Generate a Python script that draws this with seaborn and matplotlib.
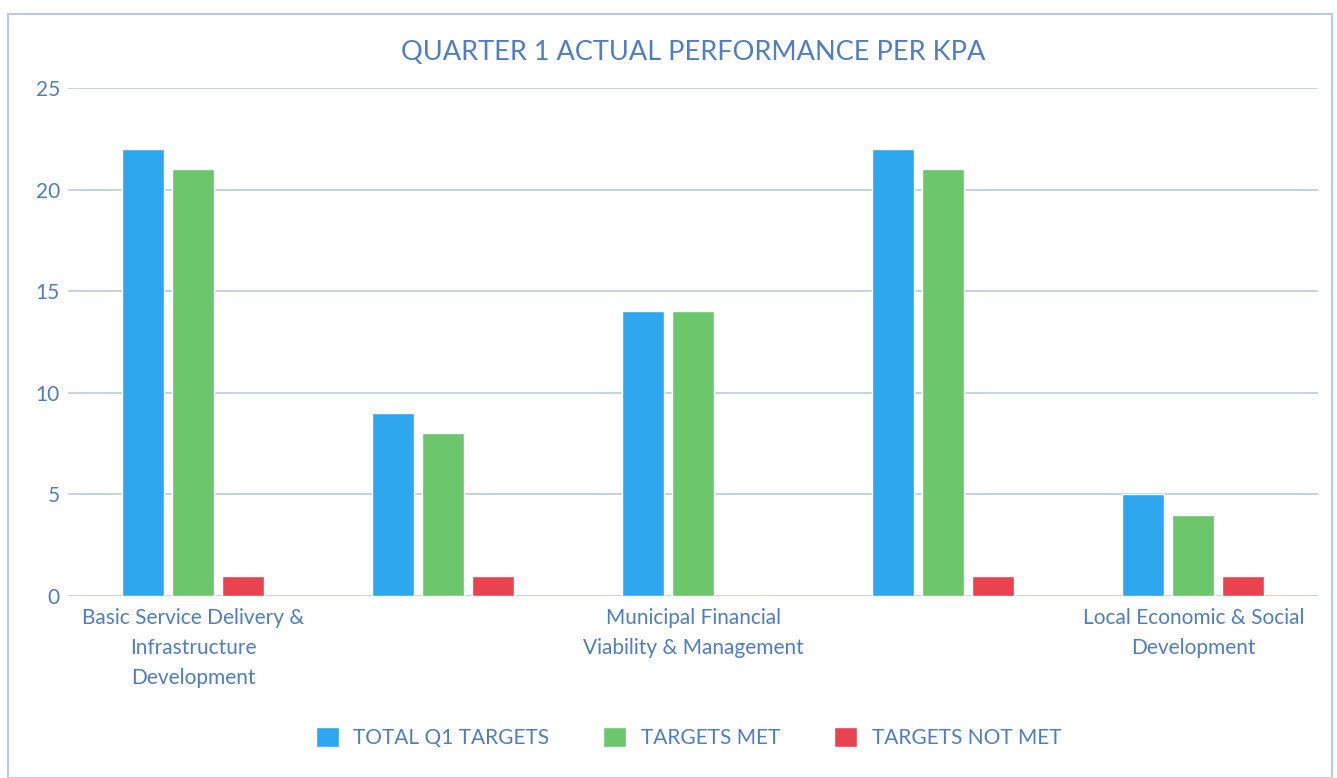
import pandas as pd
import matplotlib.pyplot as plt
import seaborn as sns
from matplotlib.patches import Rectangle

# -------------------------------
# Data
# -------------------------------
kpas = [
    "Basic Service Delivery &\nInfrastructure\nDevelopment",
    "Good Governance &\nPublic Participation",
    "Municipal Financial\nViability & Management",
    "Municipal Transformation &\nInstitutional Development",
    "Local Economic & Social\nDevelopment",
]
total_targets = [22, 9, 14, 22, 5]
targets_met = [21, 8, 14, 21, 4]
targets_not_met = [1, 1, 0, 1, 1]

series_names = ["TOTAL Q1 TARGETS", "TARGETS MET", "TARGETS NOT MET"]
colors = ["#2EA7EE", "#6CC66C", "#E8434F"]
text_color = "#4F7DC9"
grid_color = "#B9CBEA"

df = pd.DataFrame({
    "KPA": kpas * 3,
    "Series": [s for s in series_names for _ in kpas],
    "Value": total_targets + targets_met + targets_not_met,
})

# -------------------------------
# Plot
# -------------------------------
sns.set_theme(style="white")
plt.rcParams["font.family"] = ["Lato", "DejaVu Sans"]

fig = plt.figure(figsize=(13.37, 7.78), dpi=100)
ax = fig.add_axes([0.051, 0.234, 0.935, 0.653])

sns.barplot(data=df, x="KPA", y="Value", hue="Series", palette=colors,
            saturation=1, width=0.6, gap=0.16, ax=ax, legend=True)

ax.set_ylim(0, 25)
ax.set_xlim(-0.5, 4.5)
ax.set_yticks([0, 5, 10, 15, 20, 25])
ax.yaxis.grid(True, color=grid_color, linewidth=1.2)
ax.set_axisbelow(True)
for s in ax.spines.values():
    s.set_visible(False)

# Excel skips every other category label when they don't fit
ax.set_xticks(range(len(kpas)))
ax.set_xticklabels([k if i % 2 == 0 else "" for i, k in enumerate(kpas)],
                   fontsize=15, color=text_color, linespacing=1.6)
ax.tick_params(axis="x", length=0, pad=9)
ax.tick_params(axis="y", length=0, pad=6, labelsize=15, labelcolor=text_color)
ax.set_xlabel("")
ax.set_ylabel("")

ax.set_title("QUARTER 1 ACTUAL PERFORMANCE PER KPA", fontsize=19.5,
             color=text_color, pad=20)

# legend at the bottom
handles, labels = ax.get_legend_handles_labels()
ax.get_legend().remove()
leg = fig.legend(handles, labels, loc="center", bbox_to_anchor=(0.515, 0.052),
                 ncol=3, frameon=False, fontsize=15, handlelength=1.1,
                 handleheight=1.1, columnspacing=2.6, handletextpad=0.7)
for t in leg.get_texts():
    t.set_color(text_color)

# chart frame
fig.patches.append(Rectangle((0.006, 0.0), 0.99, 0.982, transform=fig.transFigure,
                             fill=False, edgecolor=grid_color, linewidth=1.5))

plt.savefig("out.png", dpi=100)
